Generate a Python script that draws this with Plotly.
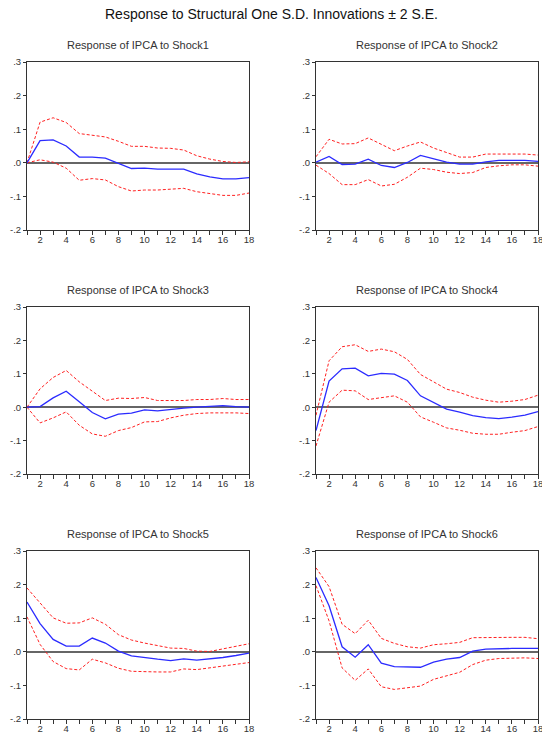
import plotly.graph_objects as go

periods = list(range(1, 19))

main_title = "Response to Structural One S.D. Innovations \u00b1 2 S.E."
panel_titles = [
    "Response of IPCA to Shock1", "Response of IPCA to Shock2",
    "Response of IPCA to Shock3", "Response of IPCA to Shock4",
    "Response of IPCA to Shock5", "Response of IPCA to Shock6",
]

y_tick_vals = [-0.2, -0.1, 0.0, 0.1, 0.2, 0.3]
y_tick_text = ["-.2", "-.1", ".0", ".1", ".2", ".3"]
x_tick_text = [str(p) if p % 2 == 0 else "" for p in periods]

# Shock1
resp1 = [0.0, 0.066, 0.068, 0.050, 0.017, 0.017, 0.014, -0.001, -0.017, -0.016,
         -0.019, -0.019, -0.019, -0.033, -0.042, -0.048, -0.048, -0.044]
up1 = [0.0, 0.121, 0.134, 0.120, 0.087, 0.082, 0.077, 0.064, 0.049, 0.049,
       0.044, 0.043, 0.038, 0.021, 0.011, 0.004, 0.001, 0.003]
lo1 = [0.0, 0.009, 0.002, -0.016, -0.052, -0.047, -0.051, -0.071, -0.084, -0.081,
       -0.081, -0.078, -0.076, -0.086, -0.091, -0.097, -0.097, -0.090]

# Shock2
resp2 = [0.002, 0.019, -0.005, -0.004, 0.011, -0.008, -0.014, 0.001, 0.022, 0.012,
         0.002, -0.004, -0.004, 0.003, 0.007, 0.007, 0.007, 0.004]
up2 = [0.018, 0.070, 0.056, 0.057, 0.074, 0.054, 0.036, 0.050, 0.062, 0.044,
       0.030, 0.017, 0.017, 0.026, 0.026, 0.026, 0.026, 0.023]
lo2 = [-0.007, -0.032, -0.065, -0.065, -0.050, -0.069, -0.064, -0.043, -0.016, -0.020,
       -0.028, -0.032, -0.029, -0.014, -0.009, -0.006, -0.006, -0.010]

# Shock3
resp3 = [0.0, 0.002, 0.028, 0.048, 0.016, -0.016, -0.035, -0.021, -0.018, -0.008,
         -0.011, -0.006, -0.003, 0.000, 0.002, 0.005, 0.002, 0.000]
up3 = [0.0, 0.055, 0.089, 0.110, 0.076, 0.048, 0.020, 0.027, 0.026, 0.029,
       0.020, 0.020, 0.020, 0.023, 0.023, 0.026, 0.023, 0.023]
lo3 = [0.0, -0.047, -0.032, -0.014, -0.054, -0.080, -0.087, -0.070, -0.061, -0.044,
       -0.043, -0.032, -0.024, -0.019, -0.017, -0.016, -0.017, -0.019]

# Shock4
resp4 = [-0.070, 0.078, 0.115, 0.117, 0.094, 0.101, 0.099, 0.080, 0.034, 0.015,
         -0.006, -0.015, -0.025, -0.031, -0.034, -0.030, -0.024, -0.013]
up4 = [-0.024, 0.139, 0.181, 0.187, 0.167, 0.174, 0.166, 0.143, 0.098, 0.076,
       0.054, 0.044, 0.030, 0.021, 0.015, 0.018, 0.023, 0.036]
lo4 = [-0.116, 0.015, 0.051, 0.049, 0.023, 0.029, 0.034, 0.015, -0.029, -0.045,
       -0.062, -0.069, -0.078, -0.081, -0.081, -0.075, -0.070, -0.058]

# Shock5
resp5 = [0.148, 0.084, 0.037, 0.017, 0.017, 0.041, 0.026, 0.002, -0.012, -0.018,
         -0.022, -0.026, -0.021, -0.025, -0.022, -0.017, -0.011, -0.004]
up5 = [0.190, 0.144, 0.101, 0.085, 0.086, 0.101, 0.082, 0.051, 0.035, 0.026,
       0.019, 0.011, 0.010, 0.002, 0.001, 0.008, 0.015, 0.024]
lo5 = [0.104, 0.022, -0.029, -0.050, -0.054, -0.022, -0.033, -0.049, -0.058, -0.060,
       -0.060, -0.060, -0.051, -0.053, -0.048, -0.043, -0.039, -0.032]

# Shock6
resp6 = [0.221, 0.137, 0.015, -0.016, 0.021, -0.034, -0.044, -0.046, -0.046, -0.031,
         -0.022, -0.017, 0.002, 0.008, 0.010, 0.010, 0.010, 0.010]
up6 = [0.250, 0.194, 0.082, 0.054, 0.094, 0.040, 0.025, 0.015, 0.011, 0.021,
       0.024, 0.028, 0.042, 0.043, 0.043, 0.043, 0.043, 0.039]
lo6 = [0.197, 0.092, -0.048, -0.085, -0.051, -0.104, -0.112, -0.106, -0.102, -0.082,
       -0.071, -0.061, -0.038, -0.025, -0.020, -0.019, -0.018, -0.020]

responses = [resp1, resp2, resp3, resp4, resp5, resp6]
uppers = [up1, up2, up3, up4, up5, up6]
lowers = [lo1, lo2, lo3, lo4, lo5, lo6]

W, H = 542, 734
col_px = [(27, 249), (316, 538)]
row_px = [(62, 230), (307, 474), (551, 719)]

fig = go.Figure()
layout = dict(
    width=W, height=H, margin=dict(l=0, r=0, t=0, b=0, autoexpand=False),
    paper_bgcolor="white", plot_bgcolor="white", showlegend=False,
    font=dict(family="Liberation Sans, Arial, sans-serif", color="#333333"),
)
annotations = [dict(text=main_title, x=0.5, y=1 - 14 / H, xref="paper", yref="paper",
                    showarrow=False, xanchor="center", yanchor="middle",
                    font=dict(size=14, color="#111111"))]

for i in range(6):
    r, c = divmod(i, 2)
    n = i + 1
    xa = "xaxis" if n == 1 else f"xaxis{n}"
    ya = "yaxis" if n == 1 else f"yaxis{n}"
    xr = "x" if n == 1 else f"x{n}"
    yr = "y" if n == 1 else f"y{n}"
    x0, x1 = col_px[c]
    t0, t1 = row_px[r]
    layout[xa] = dict(
        domain=[x0 / W, x1 / W], range=[1, 18], anchor=yr, automargin=False,
        tickmode="array", tickvals=periods, ticktext=x_tick_text,
        ticks="outside", ticklen=4, tickcolor="#333333", tickwidth=1,
        ticklabeloverflow="allow", ticklabelstandoff=-3,
        showline=True, mirror=True, linecolor="#333333", linewidth=1,
        showgrid=False, zeroline=False, tickfont=dict(size=9.5, color="#333333"),
    )
    layout[ya] = dict(
        domain=[1 - t1 / H, 1 - t0 / H], range=[-0.2, 0.3], anchor=xr, automargin=False,
        tickmode="array", tickvals=y_tick_vals, ticktext=y_tick_text,
        ticks="outside", ticklen=3, tickcolor="#333333", tickwidth=1,
        showline=True, mirror=True, linecolor="#333333", linewidth=1,
        showgrid=False, zeroline=True, zerolinecolor="#666666", zerolinewidth=1.5,
        tickfont=dict(size=9.5, color="#333333"),
    )
    fig.add_trace(go.Scatter(x=periods, y=uppers[i], mode="lines", xaxis=xr, yaxis=yr,
                             line=dict(color="#ff2020", width=1, dash="3px,2px")))
    fig.add_trace(go.Scatter(x=periods, y=lowers[i], mode="lines", xaxis=xr, yaxis=yr,
                             line=dict(color="#ff2020", width=1, dash="3px,2px")))
    fig.add_trace(go.Scatter(x=periods, y=responses[i], mode="lines", xaxis=xr, yaxis=yr,
                             line=dict(color="#2b2bff", width=1.3)))
    annotations.append(dict(text=panel_titles[i], x=(x0 + x1) / 2 / W, y=1 - (t0 - 17) / H,
                            xref="paper", yref="paper", showarrow=False,
                            xanchor="center", yanchor="middle",
                            font=dict(size=11, color="#333333")))

layout["annotations"] = annotations
fig.update_layout(**layout)
fig.write_html("out.html", config={"displayModeBar": False},
               post_script="document.body.style.margin='0';document.body.style.overflow='hidden';")
